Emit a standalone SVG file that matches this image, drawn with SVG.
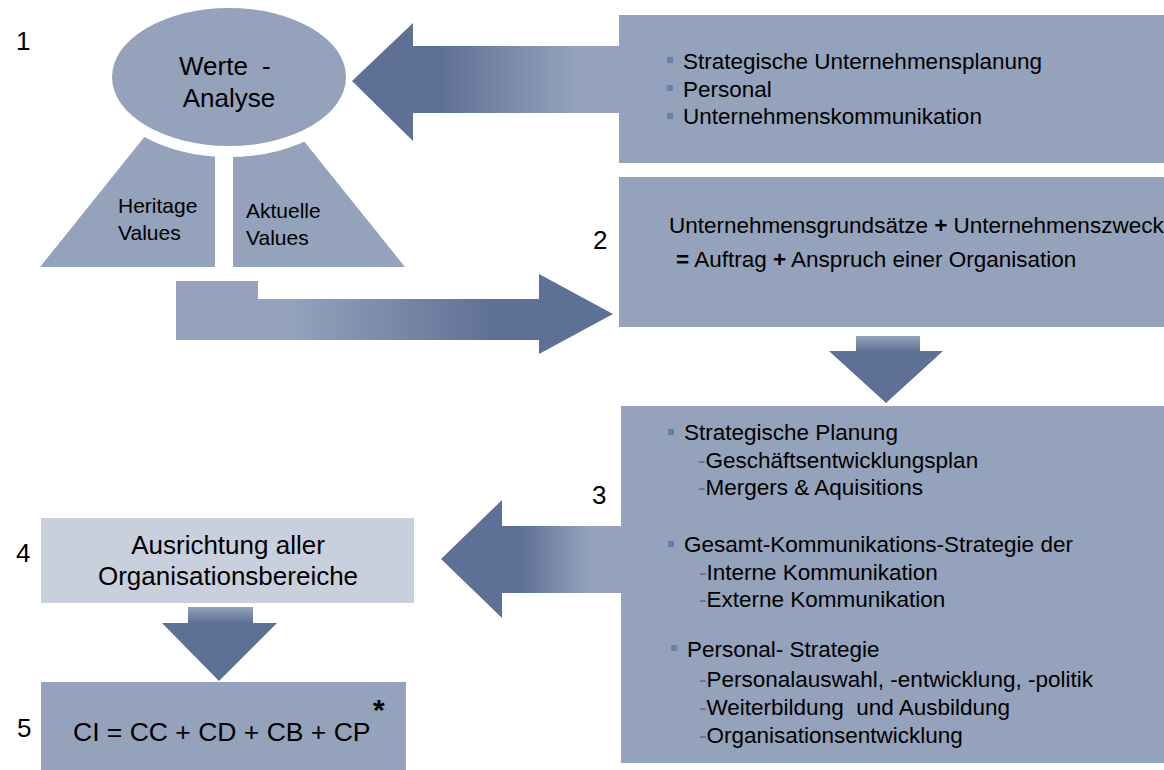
<svg xmlns="http://www.w3.org/2000/svg" width="1164" height="770" viewBox="0 0 1164 770">
<style>
  text { font-family: "Liberation Sans", Arial, sans-serif; fill: #000; }
  .box { fill: #94a2bb; }
  .light { fill: #c8cfdd; }
  .num { font-size: 26px; }
  .t { font-size: 22.5px; }
  .big { font-size: 26px; }
  .mid { font-size: 21px; }
  .bul { fill: #6b7fa5; }
  .dash { fill: #5e7096; }
  .b { font-weight: bold; }
</style>
<defs>
  <linearGradient id="g1" gradientUnits="userSpaceOnUse" x1="440" y1="0" x2="575" y2="0">
    <stop offset="0" stop-color="#5e7096"/><stop offset="1" stop-color="#94a2bb"/>
  </linearGradient>
  <linearGradient id="g2" gradientUnits="userSpaceOnUse" x1="290" y1="0" x2="495" y2="0">
    <stop offset="0" stop-color="#94a2bb"/><stop offset="1" stop-color="#5e7096"/>
  </linearGradient>
  <linearGradient id="g3" gradientUnits="userSpaceOnUse" x1="520" y1="0" x2="590" y2="0">
    <stop offset="0" stop-color="#5e7096"/><stop offset="1" stop-color="#94a2bb"/>
  </linearGradient>
  <linearGradient id="g4" gradientUnits="userSpaceOnUse" x1="0" y1="336" x2="0" y2="352">
    <stop offset="0" stop-color="#94a2bb"/><stop offset="1" stop-color="#5e7096"/>
  </linearGradient>
  <linearGradient id="g5" gradientUnits="userSpaceOnUse" x1="0" y1="607" x2="0" y2="623">
    <stop offset="0" stop-color="#94a2bb"/><stop offset="1" stop-color="#5e7096"/>
  </linearGradient>
  <clipPath id="gapClip">
    <path clip-rule="evenodd" d="M0,0 H420 V280 H0 Z M101,77 a128,80 0 1,0 256,0 a128,80 0 1,0 -256,0 Z"/>
  </clipPath>
</defs>
<rect width="1164" height="770" fill="#fff"/>

<g id="connectors">
  <polygon id="arrow-1" fill="url(#g1)" points="352,81 413,23 413,46 621,46 621,113 413,113 413,141"/>
  <polygon id="arrow-2" fill="url(#g2)" points="176,281 258,281 258,299 539,299 539,274 613,314 539,354 539,340 176,340"/>
  <polygon id="arrow-down-2" fill="url(#g4)" points="856,336 920,336 920,351 943,351 886,403 829,351 856,351"/>
  <polygon id="arrow-3" fill="url(#g3)" points="441,559 502,500 502,526 623,526 623,593 502,593 502,618"/>
  <polygon id="arrow-down-4" fill="url(#g5)" points="188,607 253,607 253,623 277,623 219,681 162,623 188,623"/>
</g>

<g id="node-1">
  <text class="num" x="16" y="50">1</text>
  <g clip-path="url(#gapClip)">
    <polygon class="box" points="158,120 215,120 215,267 40,267"/>
    <polygon class="box" points="233,120 287,120 405,267 233,267"/>
  </g>
  <ellipse class="box" cx="229" cy="77" rx="117" ry="69"/>
  <text class="big" x="179" y="75">Werte <tspan dx="7">-</tspan></text>
  <text class="big" x="229" y="107" text-anchor="middle">Analyse</text>
  <text class="mid" x="118" y="213">Heritage</text>
  <text class="mid" x="118" y="240">Values</text>
  <text class="mid" x="246" y="218">Aktuelle</text>
  <text class="mid" x="246" y="245">Values</text>
</g>

<g id="node-inputs">
  <rect class="box" x="619" y="15" width="545" height="148"/>
  <rect class="bul" x="667" y="57" width="6" height="6"/>
  <rect class="bul" x="667" y="85" width="6" height="6"/>
  <rect class="bul" x="667" y="113" width="6" height="6"/>
  <text class="t" x="683" y="69">Strategische Unternehmensplanung</text>
  <text class="t" x="683" y="97">Personal</text>
  <text class="t" x="683" y="124">Unternehmenskommunikation</text>
</g>

<g id="node-2">
  <rect class="box" x="619" y="177" width="545" height="150"/>
  <text class="num" x="593" y="249">2</text>
  <text class="t" x="669" y="233">Unternehmensgrundsätze <tspan class="b">+</tspan> Unternehmenszweck</text>
  <text class="t" x="676" y="267"><tspan class="b">=</tspan> Auftrag <tspan class="b">+</tspan> Anspruch einer Organisation</text>
</g>

<g id="node-3">
  <rect class="box" x="621" y="406" width="543" height="357"/>
  <text class="num" x="592" y="504">3</text>
  <rect class="bul" x="668" y="429" width="6" height="6"/>
  <rect class="bul" x="668" y="541" width="6" height="6"/>
  <rect class="bul" x="671" y="645" width="6" height="6"/>
  <text class="t" x="684" y="440">Strategische Planung</text>
  <text class="t" x="698" y="468"><tspan class="dash">-</tspan>Geschäftsentwicklungsplan</text>
  <text class="t" x="698" y="495"><tspan class="dash">-</tspan>Mergers &amp; Aquisitions</text>
  <text class="t" x="684" y="552">Gesamt-Kommunikations-Strategie der</text>
  <text class="t" x="699" y="580"><tspan class="dash">-</tspan>Interne Kommunikation</text>
  <text class="t" x="699" y="607"><tspan class="dash">-</tspan>Externe Kommunikation</text>
  <text class="t" x="687" y="657">Personal- Strategie</text>
  <text class="t" x="699" y="687"><tspan class="dash">-</tspan>Personalauswahl, -entwicklung, -politik</text>
  <text class="t" x="699" y="715" xml:space="preserve"><tspan class="dash">-</tspan>Weiterbildung  und Ausbildung</text>
  <text class="t" x="699" y="743"><tspan class="dash">-</tspan>Organisationsentwicklung</text>
</g>

<g id="node-4">
  <rect class="light" x="41" y="518" width="373" height="85"/>
  <text class="num" x="16" y="562">4</text>
  <text class="big" x="228" y="554" text-anchor="middle">Ausrichtung aller</text>
  <text class="big" x="228" y="585" text-anchor="middle">Organisationsbereiche</text>
</g>

<g id="node-5">
  <rect class="box" x="41" y="682" width="365" height="88"/>
  <text class="num" x="17" y="737">5</text>
  <text x="73" y="741" style="font-size:26.5px">CI = CC + CD + CB + CP</text>
  <text x="373" y="720" class="b" style="font-size:30px">*</text>
</g>
</svg>
